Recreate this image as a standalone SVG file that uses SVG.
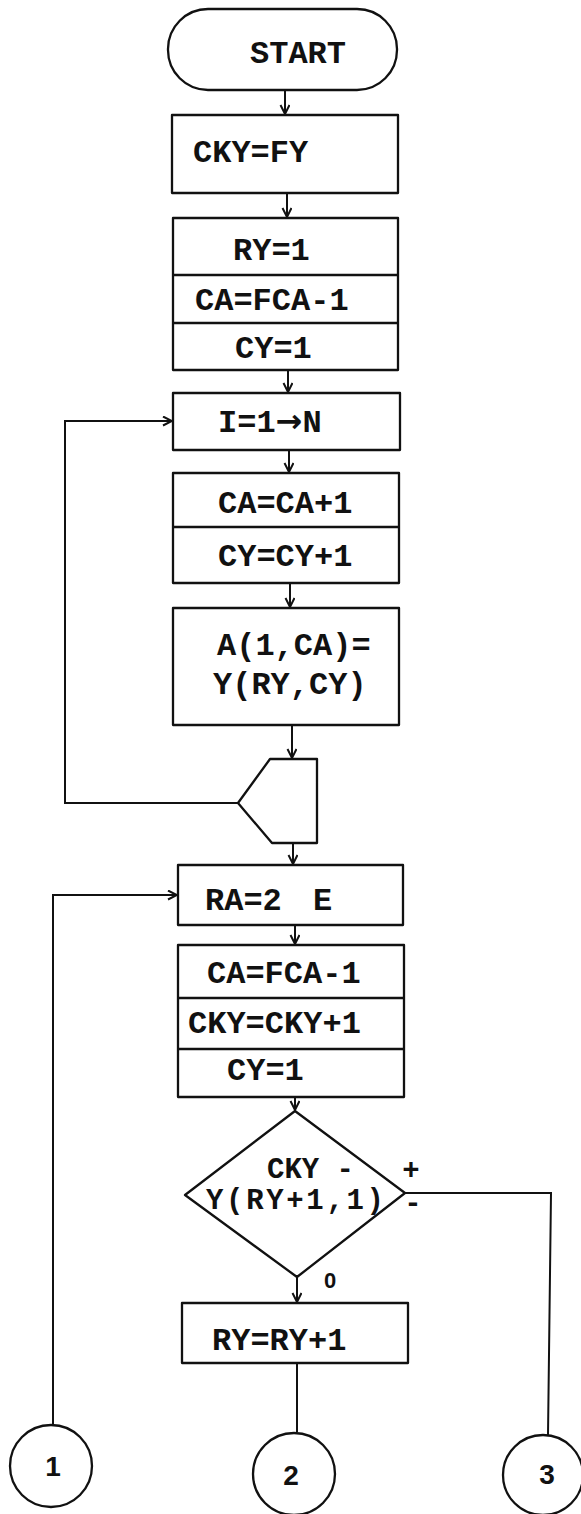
<svg xmlns="http://www.w3.org/2000/svg" width="581" height="1514" viewBox="0 0 581 1514">
<style>
.s{fill:none;stroke:#111;stroke-width:2.3;stroke-linejoin:round}
.c{fill:none;stroke:#111;stroke-width:2}
.t{font-family:"Liberation Mono","DejaVu Sans Mono",monospace;font-weight:bold;font-size:32px;fill:#111}
.q{font-family:"Liberation Mono","DejaVu Sans Mono",monospace;font-weight:bold;font-size:29px;fill:#111}
.d{font-family:"Liberation Sans","DejaVu Sans",sans-serif;font-weight:bold;font-size:28px;fill:#111;text-anchor:middle}
.ar{font-family:"DejaVu Sans",sans-serif;font-weight:bold}
</style>
<defs>
<marker id="ah" markerWidth="12" markerHeight="12" refX="10" refY="5" orient="auto" markerUnits="userSpaceOnUse">
<path d="M1,0.5 L10,5 L1,9.5" fill="none" stroke="#111" stroke-width="2"/>
</marker>
</defs>
<rect width="581" height="1514" fill="#fff"/>
<g id="connectors">
<line class="c" x1="285" y1="90" x2="285" y2="114" marker-end="url(#ah)"/>
<line class="c" x1="287" y1="193" x2="287" y2="217" marker-end="url(#ah)"/>
<line class="c" x1="288" y1="370" x2="288" y2="392" marker-end="url(#ah)"/>
<line class="c" x1="289" y1="450" x2="289" y2="472" marker-end="url(#ah)"/>
<line class="c" x1="290" y1="583" x2="290" y2="607" marker-end="url(#ah)"/>
<line class="c" x1="292" y1="725" x2="292" y2="758" marker-end="url(#ah)"/>
<polyline class="c" points="238,803 65,803 65,421 172,421" marker-end="url(#ah)"/>
<line class="c" x1="293" y1="843" x2="293" y2="864" marker-end="url(#ah)"/>
<line class="c" x1="295" y1="925" x2="295" y2="944" marker-end="url(#ah)"/>
<line class="c" x1="295" y1="1097" x2="295" y2="1110" marker-end="url(#ah)"/>
<line class="c" x1="297" y1="1277" x2="297" y2="1302" marker-end="url(#ah)"/>
<line class="c" x1="297" y1="1363" x2="297" y2="1432"/>
<polyline class="c" points="405,1193 551,1193 548,1435"/>
<polyline class="c" points="53,1425 53,895 177,895" marker-end="url(#ah)"/>
</g>
<g id="start">
<rect class="s" x="168" y="9" width="229" height="81" rx="40" ry="40"/>
<text class="t" x="250" y="63">START</text>
</g>
<g id="cky-fy">
<rect class="s" x="172" y="115" width="226" height="78"/>
<text class="t" x="193" y="162">CKY=FY</text>
</g>
<g id="init1">
<rect class="s" x="173" y="218" width="225" height="152"/>
<line class="s" x1="173" y1="275" x2="398" y2="275"/>
<line class="s" x1="173" y1="323" x2="398" y2="323"/>
<text class="t" x="233" y="260">RY=1</text>
<text class="t" x="195" y="310">CA=FCA-1</text>
<text class="t" x="235" y="358">CY=1</text>
</g>
<g id="loop-start">
<rect class="s" x="173" y="393" width="227" height="57"/>
<text class="t" x="218" y="432">I=1<tspan class="ar">→</tspan>N</text>
</g>
<g id="incr">
<rect class="s" x="173" y="473" width="226" height="110"/>
<line class="s" x1="173" y1="527" x2="399" y2="527"/>
<text class="t" x="218" y="513">CA=CA+1</text>
<text class="t" x="218" y="566">CY=CY+1</text>
</g>
<g id="assign">
<rect class="s" x="173" y="608" width="226" height="117"/>
<text class="t" x="217" y="655">A(1,CA)=</text>
<text class="t" x="213" y="694">Y(RY,CY)</text>
</g>
<g id="loop-end">
<polygon class="s" points="270,759 317,759 317,843 272,843 238,803"/>
</g>
<g id="ra">
<rect class="s" x="178" y="865" width="225" height="60"/>
<text class="t" x="205" y="910">RA=2 <tspan x="313">E</tspan></text>
</g>
<g id="init2">
<rect class="s" x="178" y="945" width="226" height="152"/>
<line class="s" x1="178" y1="998" x2="404" y2="998"/>
<line class="s" x1="178" y1="1049" x2="404" y2="1049"/>
<text class="t" x="207" y="983">CA=FCA-1</text>
<text class="t" x="188" y="1033">CKY=CKY+1</text>
<text class="t" x="227" y="1080">CY=1</text>
</g>
<g id="decision">
<polygon class="s" points="295,1111 405,1193 297,1277 185,1195"/>
<text class="q" x="267" y="1178">CKY -</text>
<text class="q" x="206" y="1209" textLength="178" lengthAdjust="spacing">Y(RY+1,1)</text>
<text class="q" x="411" y="1179" text-anchor="middle">+</text>
<text class="q" x="413" y="1212" text-anchor="middle">-</text>
<text class="d" x="330" y="1288" style="font-size:22px">0</text>
</g>
<g id="ry-inc">
<rect class="s" x="182" y="1303" width="226" height="60"/>
<text class="t" x="212" y="1350">RY=RY+1</text>
</g>
<g id="conn1">
<circle class="s" cx="51" cy="1466" r="41"/>
<text class="d" x="53" y="1476">1</text>
</g>
<g id="conn2">
<circle class="s" cx="294" cy="1474" r="41"/>
<text class="d" x="291" y="1485">2</text>
</g>
<g id="conn3">
<circle class="s" cx="543" cy="1475" r="40"/>
<text class="d" x="547" y="1484">3</text>
</g>
</svg>
